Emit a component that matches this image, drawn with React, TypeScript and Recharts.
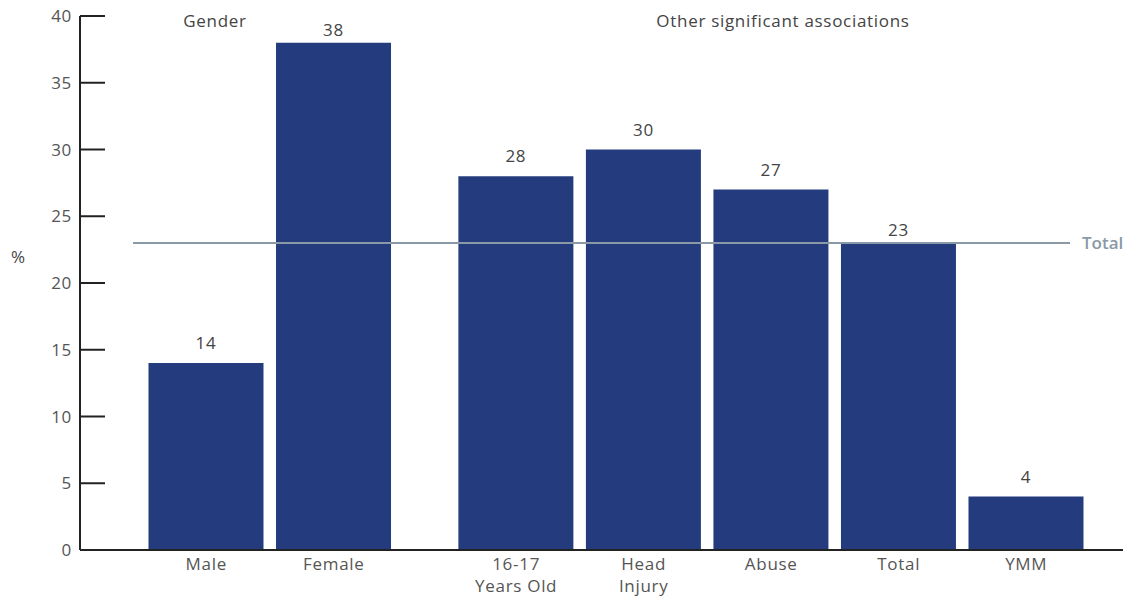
import React from 'react';
import {
  BarChart, Bar, XAxis, YAxis, ReferenceLine, LabelList, Customized
} from 'recharts';

// Datos del gráfico
const categorias = ['Male', 'Female', '16-17\nYears Old', 'Head\nInjury', 'Abuse', 'Total', 'YMM'];
const valores = [14, 38, 28, 30, 27, 23, 4];
const ticksY = [0, 5, 10, 15, 20, 25, 30, 35, 40];
const valorTotal = 23;
const grupos = ['Gender', 'Other significant associations'];

// espacio extra entre el grupo "Gender" y el resto
const SEPARACION = 0.43;
const FUENTE = '"Open Sans", Lato, sans-serif';
const AZUL = '#243b7e';
const GRIS_LINEA = '#8a99a6';
const TEXTO = '#555';
const TAM = 17;
const ESPACIADO = 0.7;

const datos = categorias.map((c, i) => ({
  pos: i + (i >= 2 ? SEPARACION : 0),
  nombre: c,
  valor: valores[i],
}));

const TickX = (props: any) => {
  const { x, y, payload } = props;
  const d = datos.find(item => item.pos === payload.value);
  const lineas = d ? d.nombre.split('\n') : [];
  return (
    <text x={x} y={y} textAnchor="middle" fill={TEXTO} fontSize={TAM} fontFamily={FUENTE} letterSpacing={ESPACIADO}>
      {lineas.map((l, i) => (
        <tspan key={i} x={x} dy={i === 0 ? 18 : 22}>{l}</tspan>
      ))}
    </text>
  );
};

const TickY = (props: any) => {
  const { x, y, payload } = props;
  return (
    <g>
      <line x1={x + 8} x2={x + 33} y1={y} y2={y} stroke="#222" strokeWidth={2} />
      <text x={x} y={y} dy={6} textAnchor="end" fill={TEXTO} fontSize={TAM} fontFamily={FUENTE} letterSpacing={ESPACIADO}>
        {payload.value}
      </text>
    </g>
  );
};

// Etiqueta de valor: más cerca de la barra si choca con el borde superior o la línea del total
const EtiquetaValor = (props: any) => {
  const { x, y, width, value } = props;
  const cerca = value >= 36 || Math.abs(value - valorTotal) < 1;
  const sep = cerca ? 7 : 14;
  return (
    <text x={x + width / 2} y={y - sep} textAnchor="middle" fill="#444" fontSize={TAM} fontFamily={FUENTE} letterSpacing={ESPACIADO}>
      {value}
    </text>
  );
};

const Encabezados = (props: any) => {
  const { xAxisMap } = props;
  const eje: any = xAxisMap ? Object.values(xAxisMap)[0] : null;
  const escala = eje ? eje.scale : null;
  const xG = escala ? escala(0.06) : 207;
  const xO = escala ? escala(4.52) : 775;
  return (
    <g fontFamily={FUENTE} fontSize={TAM} fill="#444" letterSpacing={ESPACIADO}>
      <text x={xG} y={27} textAnchor="middle">{grupos[0]}</text>
      <text x={xO} y={27} textAnchor="middle">{grupos[1]}</text>
      <text x={3} y={263} textAnchor="start">%</text>
    </g>
  );
};

const EtiquetaTotal = (props: any) => {
  const { viewBox } = props;
  const x = viewBox.x + viewBox.width;
  return (
    <text x={x + 12} y={viewBox.y + 6} fill={GRIS_LINEA} fontSize={17} fontWeight={600} fontFamily={FUENTE}>
      Total
    </text>
  );
};

const App: React.FC = () => {
  return (
    <div style={{ marginTop: -8 }}>
      <BarChart
        width={1123}
        height={596}
        data={datos}
        margin={{ top: 16, right: 4, bottom: 0, left: 0 }}
        style={{ overflow: 'visible' }}
      >
        <XAxis
          dataKey="pos"
          type="number"
          domain={[-0.99, 7.22]}
          ticks={datos.map(d => d.pos)}
          interval={0}
          allowDataOverflow
          height={46}
          tickLine={false}
          tickSize={0}
          tick={<TickX />}
          axisLine={{ stroke: '#222', strokeWidth: 2 }}
        />
        <YAxis
          domain={[0, 40]}
          ticks={ticksY}
          width={72}
          tickLine={false}
          tickSize={0}
          tickMargin={8}
          tick={<TickY />}
          axisLine={{ stroke: '#222', strokeWidth: 2 }}
        />
        <Bar dataKey="valor" fill={AZUL} barSize={115} isAnimationActive={false}>
          <LabelList dataKey="valor" content={<EtiquetaValor />} />
        </Bar>
        <ReferenceLine
          segment={[{ x: -0.574, y: valorTotal }, { x: 6.773, y: valorTotal }]}
          stroke={GRIS_LINEA}
          strokeWidth={2}
          label={<EtiquetaTotal />}
        />
        <Customized component={Encabezados} />
      </BarChart>
    </div>
  );
};

export default App;
